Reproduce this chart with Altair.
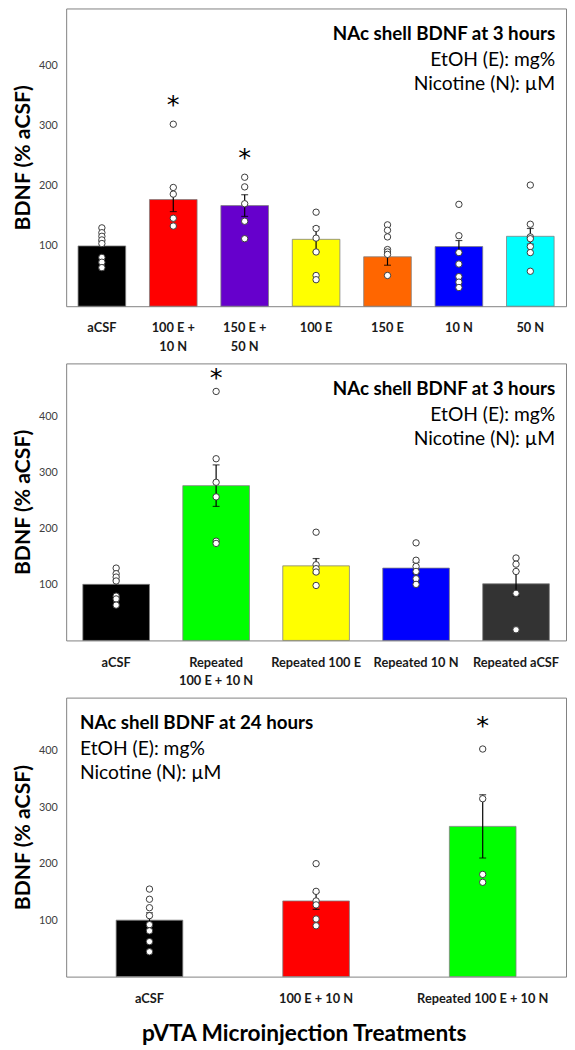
import altair as alt
import pandas as pd

FONT = "Lato"

# ---------------- Panel 1: acute, 3 hours ----------------
p1_cats = ["aCSF", "100 E +\n10 N", "150 E +\n50 N", "100 E", "150 E", "10 N", "50 N"]
p1_means = [100, 177, 167, 111, 82, 99, 116]
p1_sems = [8, 20, 18, 21, 14, 10, 13]
p1_colors = ["#000000", "#FF0000", "#6600CC", "#FFFF00", "#FF6600", "#0000FF", "#00FFFF"]
p1_points = [
    [130, 122, 116, 110, 104, 81, 73, 64],
    [302, 197, 186, 146, 133],
    [214, 198, 170, 141, 112],
    [156, 129, 113, 90, 51, 44],
    [135, 126, 115, 94, 90, 86, 51],
    [169, 117, 89, 70, 49, 40, 31],
    [201, 136, 115, 112, 99, 89, 58],
]
p1_stars = [None, 336, 247, None, None, None, None]
p1_notes = ["NAc shell BDNF at 3 hours", "EtOH (E): mg%", "Nicotine (N): \u00b5M"]

# ---------------- Panel 2: repeated, 3 hours ----------------
p2_cats = ["aCSF", "Repeated\n100 E + 10 N", "Repeated 100 E", "Repeated 10 N", "Repeated aCSF"]
p2_means = [100, 276, 133, 129, 101]
p2_sems = [8, 37, 13, 10, 22]
p2_colors = ["#000000", "#00FF00", "#FFFF00", "#0000FF", "#333333"]
p2_points = [
    [129, 119, 113, 106, 79, 74, 63],
    [444, 324, 282, 256, 177, 173],
    [193, 135, 128, 122, 98],
    [174, 143, 132, 123, 110, 100],
    [147, 136, 123, 84, 19],
]
p2_stars = [None, 469, None, None, None]
p2_notes = ["NAc shell BDNF at 3 hours", "EtOH (E): mg%", "Nicotine (N): \u00b5M"]

# ---------------- Panel 3: 24 hours ----------------
p3_cats = ["aCSF", "100 E + 10 N", "Repeated 100 E + 10 N"]
p3_means = [100, 134, 266]
p3_sems = [13, 15, 56]
p3_colors = ["#000000", "#FF0000", "#00FF00"]
p3_points = [
    [155, 137, 122, 108, 92, 81, 62, 44],
    [200, 151, 134, 127, 102, 90],
    [403, 315, 181, 167],
]
p3_stars = [None, None, 446]
p3_notes = ["NAc shell BDNF at 24 hours", "EtOH (E): mg%", "Nicotine (N): \u00b5M"]

y_ticks = [100, 200, 300, 400]
y_max = 494
y_title = "BDNF (% aCSF)"
x_title = "pVTA Microinjection Treatments"

W = 507


def panel(cats, means, sems, colors, points, stars, notes, height,
          pad_inner, pad_outer, note_right=True, xtitle=None):
    bars = pd.DataFrame({
        "cat": cats,
        "mean": means,
        "lo": [m - s for m, s in zip(means, sems)],
        "hi": [m + s for m, s in zip(means, sems)],
    })
    pts = pd.DataFrame([{"cat": c, "v": v} for c, vals in zip(cats, points) for v in vals])
    st = pd.DataFrame([{"cat": c, "s": s} for c, s in zip(cats, stars) if s is not None])

    xs = alt.Scale(domain=cats, paddingInner=pad_inner, paddingOuter=pad_outer)
    ys = alt.Scale(domain=[0, y_max], nice=False, zero=True)

    ax_kwargs = dict(
        labelAngle=0, labelFont=FONT, labelFontSize=13, labelFontWeight="bold",
        labelColor="#1a1a1a", labelPadding=16, labelLineHeight=19,
        labelExpr="split(datum.label, '\\n')", ticks=False, domain=False,
        labelLimit=300, grid=False,
    )
    if xtitle:
        ax_kwargs.update(titleFont=FONT, titleFontSize=23, titleFontWeight="bold",
                         titleColor="#000000", titlePadding=18, titleX=241)
    xaxis = alt.Axis(**ax_kwargs)
    yaxis = alt.Axis(values=y_ticks, labelFont=FONT, labelFontSize=11,
                     labelColor="#404040", labelPadding=9, ticks=False,
                     domain=False, grid=False, titleFont=FONT, titleFontSize=21.5,
                     titleFontWeight="bold", titleColor="#000000", titlePadding=4)

    xt = xtitle if xtitle else ""

    def X():
        return alt.X("cat:N", scale=xs, sort=cats, axis=xaxis, title=xt)

    def Y(field):
        return alt.Y(field, scale=ys, axis=yaxis, title=y_title)

    bar_layer = alt.Chart(bars).mark_bar(stroke="#7f7f7f", strokeWidth=0.8).encode(
        x=X(),
        y=Y("mean:Q"),
        color=alt.Color("cat:N", scale=alt.Scale(domain=cats, range=colors), legend=None),
    )
    err = alt.Chart(bars).mark_rule(color="#000000", strokeWidth=1.2).encode(
        x=X(), y=Y("lo:Q"), y2="hi:Q")
    cap_hi = alt.Chart(bars).mark_tick(color="#000000", size=7, thickness=1.2).encode(
        x=X(), y=Y("hi:Q"))
    cap_lo = alt.Chart(bars).mark_tick(color="#000000", size=7, thickness=1.2).encode(
        x=X(), y=Y("lo:Q"))
    pt_layer = alt.Chart(pts).mark_point(
        shape="circle", filled=True, fill="#ffffff", stroke="#3a3a3a",
        strokeWidth=1, size=42, opacity=1).encode(x=X(), y=Y("v:Q"))
    layers = [bar_layer, err, cap_hi, cap_lo, pt_layer]
    if len(st):
        star_layer = alt.Chart(st).mark_text(
            text="*", font="DejaVu Sans", fontSize=26, color="#000000",
            baseline="middle", dy=1
        ).encode(x=X(), y=Y("s:Q"))
        layers.append(star_layer)

    nx = W - 11 if note_right else 14
    align = "right" if note_right else "left"
    for i, line in enumerate(notes):
        nd = pd.DataFrame({"t": [line]})
        layers.append(
            alt.Chart(nd).mark_text(
                font=FONT, fontSize=19 if i == 0 else 19.5,
                fontWeight="bold" if i == 0 else "normal",
                color="#000000", align=align, baseline="middle",
            ).encode(text="t:N", x=alt.value(nx), y=alt.value([26, 52, 77][i]))
        )
    return alt.layer(*layers).properties(width=W, height=height)


c1 = panel(p1_cats, p1_means, p1_sems, p1_colors, p1_points, p1_stars, p1_notes,
           302, 1 / 3, 1 / 6)
c2 = panel(p2_cats, p2_means, p2_sems, p2_colors, p2_points, p2_stars, p2_notes,
           281, 1 / 3, 1 / 6)
c3 = panel(p3_cats, p3_means, p3_sems, p3_colors, p3_points, p3_stars, p3_notes,
           283, 0.6, 0.3, note_right=False, xtitle=x_title)

chart = alt.vconcat(c1, c2, c3, spacing=58, bounds="flush").resolve_scale(
    x="independent", y="independent", color="independent"
).properties(
    padding={"left": 4, "top": -8, "right": 0, "bottom": 0}
).configure_view(stroke="#808080", strokeWidth=1)

chart.save("out.html", embed_options={"renderer": "svg", "actions": False})
